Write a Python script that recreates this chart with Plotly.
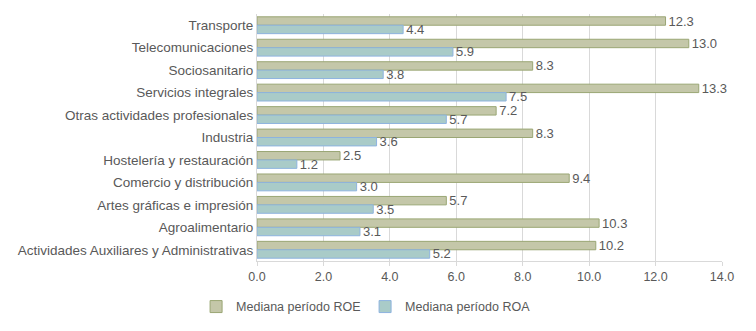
import plotly.graph_objects as go

categories = ["Transporte", "Telecomunicaciones", "Sociosanitario", "Servicios integrales",
              "Otras actividades profesionales", "Industria", "Hostelería y restauración",
              "Comercio y distribución", "Artes gráficas e impresión", "Agroalimentario",
              "Actividades Auxiliares y Administrativas"]
roe = [12.3, 13.0, 8.3, 13.3, 7.2, 8.3, 2.5, 9.4, 5.7, 10.3, 10.2]
roa = [4.4, 5.9, 3.8, 7.5, 5.7, 3.6, 1.2, 3.0, 3.5, 3.1, 5.2]
x_ticks = [0, 2, 4, 6, 8, 10, 12, 14]

font_color = "#595959"
fig = go.Figure()
fig.add_trace(go.Bar(
    y=categories, x=roe, orientation="h", name="Mediana período ROE",
    marker=dict(color="#c4c7a9", line=dict(color="#9aa674", width=1)),
    text=[f"{v:.1f}" for v in roe], textposition="outside", cliponaxis=False,
    constraintext="none", textfont=dict(color=font_color, size=13),
))
fig.add_trace(go.Bar(
    y=categories, x=roa, orientation="h", name="Mediana período ROA",
    marker=dict(color="#a9cbc8", line=dict(color="#8db3df", width=1)),
    text=[f"{v:.1f}" for v in roa], textposition="outside", cliponaxis=False,
    constraintext="none", textfont=dict(color=font_color, size=13),
))
fig.update_layout(
    width=740, height=315,
    margin=dict(l=249, r=26, t=6, b=62, autoexpand=False),
    barmode="group", bargap=0.25, bargroupgap=0,
    plot_bgcolor="white", paper_bgcolor="white",
    font=dict(family="Liberation Sans, Arial, sans-serif", size=12, color=font_color),
    xaxis=dict(range=[0, 14], tickvals=x_ticks, ticktext=[f"{v:.1f}" for v in x_ticks],
               showgrid=True, gridcolor="#d9d9d9", gridwidth=1, automargin=False,
               showline=True, linecolor="#d9d9d9", ticks="outside", ticklen=4,
               tickcolor="#d9d9d9", zeroline=False, tickfont=dict(size=12.5, color=font_color)),
    yaxis=dict(autorange="reversed", showline=True, linecolor="#d9d9d9", automargin=False,
               ticks="", showgrid=False, tickfont=dict(size=13.5, color=font_color)),
    showlegend=True,
    legend=dict(orientation="h", x=-0.131, xanchor="left", y=-0.186, yanchor="middle",
                itemwidth=30, entrywidth=124, font=dict(size=12.5, color=font_color),
                traceorder="normal"),
)
fig.write_html("out.html")
